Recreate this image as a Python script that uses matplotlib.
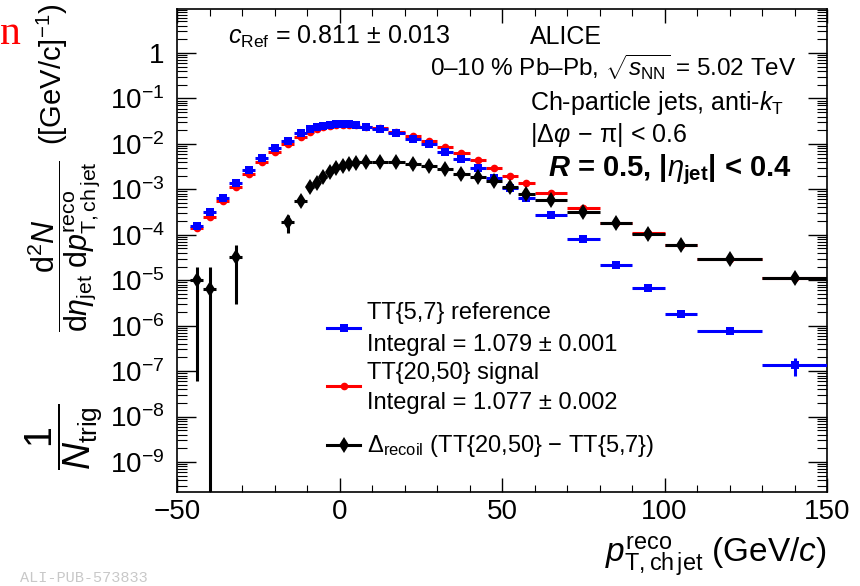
import numpy as np
import matplotlib
matplotlib.use("Agg")
import matplotlib.pyplot as plt
from matplotlib.lines import Line2D
from matplotlib.ticker import LogLocator, MultipleLocator, FuncFormatter, NullFormatter

plt.rcParams['font.family'] = ['Liberation Sans', 'DejaVu Sans']
plt.rcParams['mathtext.fontset'] = 'custom'
plt.rcParams['mathtext.rm'] = 'Liberation Sans'
plt.rcParams['mathtext.it'] = 'Liberation Sans:italic'
plt.rcParams['mathtext.bf'] = 'Liberation Sans:bold'
plt.rcParams['mathtext.bfit'] = 'Liberation Sans:italic:bold'

# ---------------- data ----------------
pt_centers = [-44, -40, -36, -32, -28, -24, -20, -16, -12,
              -9, -7, -5, -3, -1, 1, 3, 5, 8,
              12.5, 17.5, 22.5, 27.5, 32.5, 37.5, 42.5, 47.5, 52.5, 57.5,
              65, 75, 85, 95, 105, 120, 140]
pt_halfwidth = [2, 2, 2, 2, 2, 2, 2, 2, 2,
                1, 1, 1, 1, 1, 1, 1, 1, 2,
                2.5, 2.5, 2.5, 2.5, 2.5, 2.5, 2.5, 2.5, 2.5, 2.5,
                5, 5, 5, 5, 5, 10, 10]

ref_values = [1.58e-4, 3.1e-4, 6.5e-4, 1.35e-3, 2.7e-3, 4.9e-3, 8.1e-3, 1.17e-2, 1.7e-2,
              2.1e-2, 2.4e-2, 2.5e-2, 2.6e-2, 2.7e-2, 2.73e-2, 2.7e-2, 2.6e-2, 2.4e-2,
              2.1e-2, 1.7e-2, 1.3e-2, 9.8e-3, 6.7e-3, 4.6e-3, 2.9e-3, 1.77e-3, 1.05e-3, 6.3e-4,
              2.7e-4, 8.0e-5, 2.2e-5, 6.8e-6, 1.85e-6, 7.8e-7, 1.35e-7]
ref_errors = [0] * 34 + [0.57e-7]

sig_values = [1.42e-4, 2.5e-4, 5.5e-4, 1.15e-3, 2.2e-3, 4.0e-3, 6.6e-3, 1.0e-2, 1.4e-2,
              1.85e-2, 2.1e-2, 2.3e-2, 2.45e-2, 2.6e-2, 2.65e-2, 2.65e-2, 2.6e-2, 2.4e-2,
              2.2e-2, 1.85e-2, 1.46e-2, 1.15e-2, 8.6e-3, 6.2e-3, 4.4e-3, 3.0e-3, 2.0e-3, 1.4e-3,
              8.3e-4, 3.9e-4, 1.86e-4, 1.1e-4, 6.1e-5, 2.95e-5, 1.13e-5]
sig_errors = [0] * 35

nan = np.nan
recoil_values = [1.0e-5, 6.3e-6, nan, 3.2e-5, nan, nan, nan, 1.9e-4, 5.5e-4,
                 1.1e-3, 1.4e-3, 1.9e-3, 2.4e-3, 3.0e-3, 3.2e-3, 3.6e-3, 3.8e-3, 4.0e-3,
                 3.95e-3, 3.95e-3, 3.7e-3, 3.2e-3, 2.75e-3, 2.2e-3, 1.9e-3, 1.55e-3, 1.14e-3, 8.1e-4,
                 5.8e-4, 3.1e-4, 1.78e-4, 1.02e-4, 6.0e-5, 2.9e-5, 1.12e-5]
recoil_errors = [0.994e-5, 1.33e-5, 0, 2.9e-5, 0, 0, 0, 0.8e-4, 0.6e-4,
                 0, 0, 0, 0, 0, 0, 0, 0, 0,
                 0, 0, 0, 0, 0, 0, 0, 0, 0, 0,
                 0, 0, 0, 0, 0, 0, 0]

y_tick_exponents = [0, -1, -2, -3, -4, -5, -6, -7, -8, -9]
x_ticks = [-50, 0, 50, 100, 150]

legend_lines = ['TT{5,7} reference', 'Integral = 1.079 ± 0.001',
                'TT{20,50} signal', 'Integral = 1.077 ± 0.002',
                r'$\Delta_{\mathrm{recoil}}$ (TT{20,50} − TT{5,7})']

# ---------------- figure ----------------
fig = plt.figure(figsize=(8.6, 5.86), dpi=100)
ax = fig.add_axes([177 / 860, 1 - 492 / 586, 650 / 860, 483 / 586])

lw = 2.2
ax.errorbar(pt_centers, sig_values, xerr=pt_halfwidth, yerr=sig_errors, fmt='o',
            color='#ff0000', ms=5.5, mew=0, elinewidth=lw, capsize=0, zorder=2)
ax.errorbar(pt_centers, ref_values, xerr=pt_halfwidth, yerr=ref_errors, fmt='s',
            color='#0000ff', ms=5.8, mew=0, elinewidth=lw, capsize=0, zorder=3)
ax.errorbar(pt_centers, recoil_values, xerr=pt_halfwidth, yerr=recoil_errors, fmt='d',
            color='black', ms=8, mew=0, elinewidth=lw, capsize=0, zorder=4)

ax.set_yscale('log', nonpositive='clip')
ax.set_xlim(-50, 150)
ax.set_ylim(2.19e-10, 9.3)

ax.yaxis.set_major_locator(LogLocator(base=10, numticks=20))
ax.yaxis.set_minor_locator(LogLocator(base=10, subs=np.arange(2, 10), numticks=200))
ax.yaxis.set_minor_formatter(NullFormatter())


def yfmt(v, pos):
    e = int(round(np.log10(v)))
    if e not in y_tick_exponents:
        return ''
    if e == 0:
        return '1'
    return r'$10^{%d}$' % e


ax.yaxis.set_major_formatter(FuncFormatter(yfmt))
ax.set_xticks(x_ticks)
ax.xaxis.set_minor_locator(MultipleLocator(10))

ax.tick_params(which='both', direction='in', top=True, right=True, labelsize=20)
ax.tick_params(axis='y', which='major', length=14, width=1, pad=9)
ax.tick_params(axis='y', which='minor', length=7.5, width=0.8)
ax.tick_params(axis='x', which='major', length=10, width=1, pad=5)
ax.tick_params(axis='x', which='minor', length=5, width=0.8)
for s in ax.spines.values():
    s.set_linewidth(1.2)

# axis titles
ax.text(1.0, -0.088, r'$p^{\mathrm{reco}}_{\mathrm{T,ch\,jet}}$ (GeV/$c$)', transform=ax.transAxes,
        ha='right', va='top', fontsize=24)
fig.text(52 / 860, 1 - 4 / 586, r'([GeV/c]$^{-1}$)', rotation=90, ha='center', va='top', fontsize=21)
fig.text(64 / 860, 1 - 160 / 586,
         r'$\dfrac{\mathrm{d}^{2}N}{\mathrm{d}\eta_{\mathrm{jet}}\;\mathrm{d}p^{\mathrm{reco}}_{\mathrm{T,ch\,jet}}}$',
         rotation=90, ha='center', va='top', fontsize=22)
fig.text(64 / 860, 1 - 470 / 586, r'$\dfrac{1}{N_{\mathrm{trig}}}$',
         rotation=90, ha='center', va='bottom', fontsize=27)

# annotations
tfs = 18
fig.text(228 / 860, 1 - 37 / 586, r'$c_{\mathrm{Ref}}$ = 0.811 ± 0.013', ha='left', va='center', fontsize=tfs)
fig.text(530 / 860, 1 - 37 / 586, 'ALICE', ha='left', va='center', fontsize=tfs)
fig.text(796 / 860, 1 - 67 / 586, r'0–10 % Pb–Pb, $\sqrt{s_{\mathrm{NN}}}$ = 5.02 TeV',
         ha='right', va='center', fontsize=17.5)
fig.text(530 / 860, 1 - 103 / 586, r'Ch-particle jets, anti-$k_{\mathrm{T}}$', ha='left', va='center', fontsize=tfs)
fig.text(530 / 860, 1 - 135 / 586, r'$|\Delta\varphi\,-\,\mathrm{\pi}|$ < 0.6', ha='left', va='center', fontsize=tfs)
fig.text(548 / 860, 1 - 170 / 586, r'$\mathbfit{R}$ = 0.5, |$\eta_{\mathbf{jet}}$| < 0.4', ha='left', va='center',
         fontsize=21, fontweight='bold')

# legend: handles via legend, texts placed line by line
h_ref = Line2D([], [], color='#0000ff', marker='s', lw=lw, ms=5.8, mew=0)
h_sig = Line2D([], [], color='#ff0000', marker='o', lw=lw, ms=5.5, mew=0)
h_rec = Line2D([], [], color='black', marker='d', lw=lw, ms=8, mew=0)
handle_rows = [(h_ref, 330), (h_sig, 388), (h_rec, 447)]
for i, (h, ypix) in enumerate(handle_rows):
    lg = ax.legend([h], [''], loc='center left', bbox_to_anchor=(327 / 860, 1 - ypix / 586),
                   bbox_transform=fig.transFigure, frameon=False, fontsize=17, handlelength=1.4,
                   handletextpad=0.0, borderpad=0, borderaxespad=0)
    if i < len(handle_rows) - 1:
        ax.add_artist(lg)

legend_rows_y = [313, 345, 373, 403, 446]
for txt, ypix in zip(legend_lines, legend_rows_y):
    fig.text(367 / 860, 1 - ypix / 586, txt, ha='left', va='center', fontsize=17)

# surrounding artefacts of the source image
fig.text(0.0, 1 - 44 / 586, 'n', color='#ff0000', fontsize=30, family='Liberation Serif', ha='left', va='baseline')
fig.text(20 / 860, 1 / 586, 'ALI-PUB-573833', color='#c8c8c8', fontsize=11, family='Liberation Mono',
         ha='left', va='bottom')

fig.savefig('out.png', dpi=100)
